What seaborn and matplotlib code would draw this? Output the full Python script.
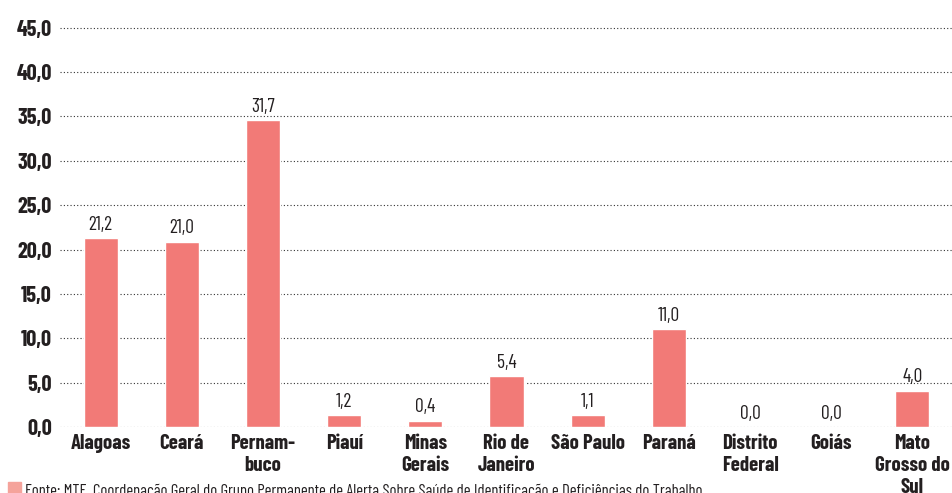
import matplotlib
matplotlib.use("Agg")
import matplotlib.pyplot as plt
import matplotlib.patches as mpatches
from matplotlib import font_manager
import seaborn as sns
import pandas as pd

categories = ["Alagoas", "Ceará", "Pernam-\nbuco", "Piauí", "Minas\nGerais", "Rio de\nJaneiro",
              "São Paulo", "Paraná", "Distrito\nFederal", "Goiás", "Mato\nGrosso do\nSul"]
bar_heights = [21.3, 20.9, 34.6, 1.3, 0.7, 5.7, 1.3, 11.0, 0.0, 0.0, 4.1]
value_labels = ["21,2", "21,0", "31,7", "1,2", "0,4", "5,4", "1,1", "11,0", "0,0", "0,0", "4,0"]
ytick_values = [0, 5, 10, 15, 20, 25, 30, 35, 40, 45]
ytick_labels = ["0,0", "5,0", "10,0", "15,0", "20,0", "25,0", "30,0", "35,0", "40,0", "45,0"]
source_text = ("Fonte: MTE, Coordenação Geral do Grupo Permanente de Alerta Sobre Saúde de "
               "Identificação e Deficiências do Trabalho")

sns.set_style("white")
names = {f.name for f in font_manager.fontManager.ttflist}
fam = "DejaVu Sans"
for cand in ["Barlow Condensed", "Roboto Condensed", "Oswald", "Archivo Narrow",
             "Sofia Sans Semi Condensed", "Sofia Sans Extra Condensed"]:
    if cand in names:
        fam = cand
        break
plt.rcParams["font.family"] = [fam, "DejaVu Sans"]

bar_color = "#F27A77"
text_color = "#231F20"

df = pd.DataFrame({"cat": categories, "val": bar_heights})

fig = plt.figure(figsize=(9.53, 4.93), dpi=100)
ax = fig.add_axes([60 / 953, (493 - 427) / 493, 1 - 60 / 953, 409 / 493])

sns.barplot(data=df, x="cat", y="val", color=bar_color, width=0.42, saturation=1,
            ax=ax, zorder=3)

ax.set_xlim(-0.5, len(categories) - 0.5)
ax.set_ylim(0, 46.1)
ax.set_yticks(ytick_values)
ax.set_yticklabels(ytick_labels, fontsize=16, fontweight="bold", color=text_color)
ax.set_xticks(range(len(categories)))
ax.set_xticklabels(categories, fontsize=15, fontweight="bold", color=text_color,
                   linespacing=1.2, va="top")
ax.tick_params(axis="both", length=0, pad=6)
ax.tick_params(axis="x", pad=5)
for s in ax.spines.values():
    s.set_visible(False)
ax.yaxis.grid(True, linestyle=(0, (1, 2)), color="#333333", linewidth=0.8, zorder=0)
ax.xaxis.grid(False)
ax.set_xlabel("")
ax.set_ylabel("")

for i, (h, lab) in enumerate(zip(bar_heights, value_labels)):
    ax.text(i, h + 0.5, lab, ha="center", va="bottom", fontsize=14, color=text_color,
            fontweight="normal", zorder=4)

fig.patches.append(mpatches.Rectangle((8 / 953, -0.01), 13 / 953, 16 / 493,
                                      transform=fig.transFigure, color="#F5A39B"))
fig.text(25 / 953, (493 - 484) / 493, source_text, fontsize=12, color=text_color,
         ha="left", va="top")

fig.savefig("out.png", dpi=100)
